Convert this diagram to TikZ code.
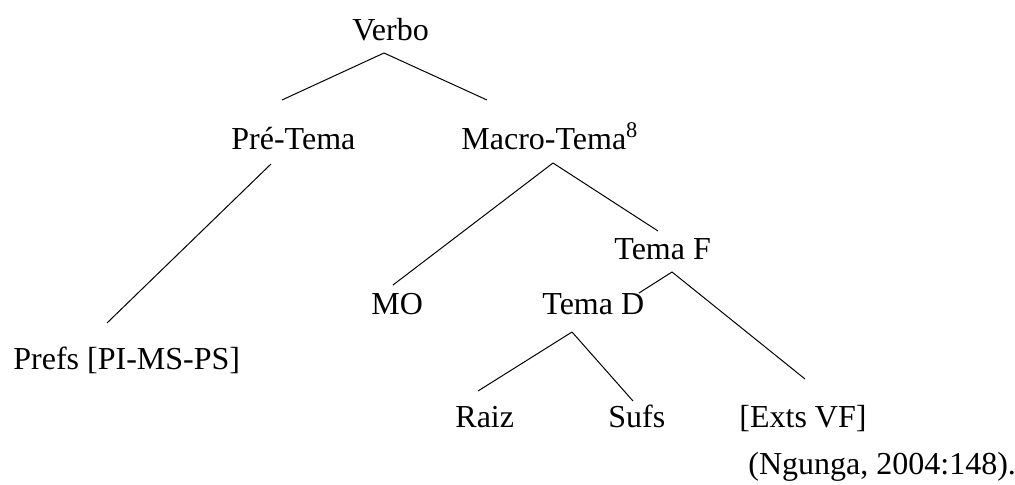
\documentclass[tikz,border=0pt]{standalone}
\usepackage{fontspec}
\setmainfont{Liberation Serif}
\usetikzlibrary{calc}
\begin{document}
\begin{tikzpicture}[x=0.5pt,y=-0.5pt,
    word/.style={anchor=base west,inner sep=0pt,font=\fontsize{16}{19}\selectfont},
    branch/.style={line width=0.5pt}]
    \useasboundingbox (0,0) rectangle (1015,485);
    % words of the tree
    \node[word] (verbo) at (352,41) {Verbo};
    \node[word] (pretema) at (231,150) {Pré-Tema};
    \node[word] (macrotema) at (461,150) {Macro-Tema\textsuperscript{8}};
    \node[word] (temaF) at (614,260) {Tema F};
    \node[word] (mo) at (371,315) {MO};
    \node[word] (temaD) at (542,315) {Tema D};
    \node[word] (prefs) at (13,370) {Prefs [PI-MS-PS]};
    \node[word] (raiz) at (455,427) {Raiz};
    \node[word] (sufs) at (608,427) {Sufs};
    \node[word] (exts) at (739,427) {[Exts VF]};
    % source
    \node[word] (fonte) at (748,474) {(Ngunga, 2004:148).};
    % branches
    \draw[branch] ($(verbo.base west)+(32,12)$) -- ($(pretema.base west)+(51,-50)$);
    \draw[branch] ($(verbo.base west)+(32,12)$) -- ($(macrotema.base west)+(26,-50)$);
    \draw[branch] ($(pretema.base west)+(40,14)$) -- ($(prefs.base west)+(94,-47)$);
    \draw[branch] ($(macrotema.base west)+(92,13)$) -- ($(mo.base west)+(22,-30)$);
    \draw[branch] ($(macrotema.base west)+(92,13)$) -- ($(temaF.base west)+(44,-29)$);
    \draw[branch] ($(temaF.base west)+(58,12)$) -- ($(temaD.base west)+(97,-22)$);
    \draw[branch] ($(temaF.base west)+(58,12)$) -- ($(exts.base west)+(66,-48)$);
    \draw[branch] ($(temaD.base west)+(30,17)$) -- ($(raiz.base west)+(23,-36)$);
    \draw[branch] ($(temaD.base west)+(30,17)$) -- ($(sufs.base west)+(25,-26)$);
\end{tikzpicture}
\end{document}
